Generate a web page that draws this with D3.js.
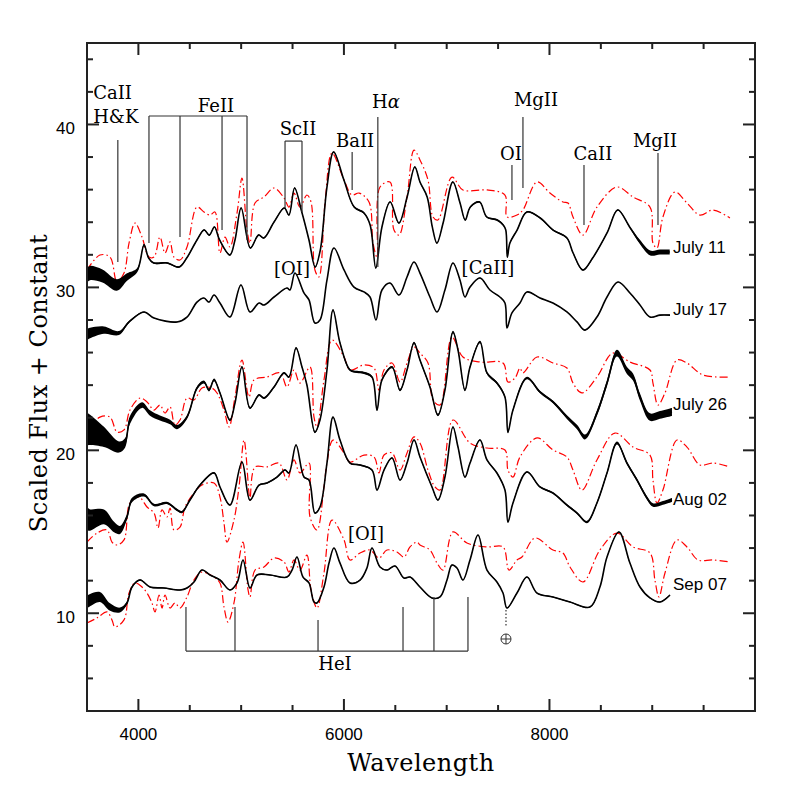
<!DOCTYPE html>
<html>
<head>
<meta charset="utf-8">
<script src="https://cdn.jsdelivr.net/npm/d3@7"></script>
<style>
  html, body { margin: 0; padding: 0; background: #fff; }
  .tick-label { font-family: "Liberation Sans", Arial, sans-serif; font-size: 17px; fill: #000; }
  .date-label { font-family: "Liberation Sans", Arial, sans-serif; font-size: 17px; fill: #000; }
  .id-label { font-family: "DejaVu Serif", serif; font-size: 18px; fill: #000; }
  .axis-title { font-family: "DejaVu Serif", serif; font-size: 24px; fill: #000; letter-spacing: 0.5px; }
</style>
</head>
<body>
<div id="chart"></div>
<script>
// Spectra: [wavelength (A), scaled flux + constant]
const july11 = [[3500,30.76],[3530,30.88],[3650,30.7],[3790,30.15],[3890,30.64],[3990,31.07],[4055,32.60],[4100,31.80],[4150,31.50],[4280,31.50],[4395,31.25],[4470,31.80],[4570,32.91],[4640,33.52],[4690,33.21],[4740,33.71],[4790,32.91],[4890,31.99],[4940,32.91],[5000,34.87],[5090,32.42],[5170,33.21],[5220,33.03],[5320,34.01],[5420,34.87],[5465,34.44],[5520,36.10],[5590,34.63],[5660,32.91],[5720,31.25],[5770,32.29],[5835,36.16],[5900,38.31],[6000,36.59],[6100,34.93],[6195,34.57],[6255,33.83],[6310,31.19],[6370,33.71],[6450,35.24],[6535,33.95],[6615,35.55],[6690,37.39],[6740,36.47],[6810,35.55],[6860,33.71],[6905,32.72],[6965,33.95],[7060,36.47],[7130,35.18],[7180,34.14],[7230,34.93],[7320,35.24],[7390,34.32],[7490,34.14],[7550,33.83],[7575,33.52],[7590,31.86],[7615,32.72],[7685,33.52],[7780,34.63],[7910,34.26],[8035,33.52],[8170,33.03],[8230,32.11],[8325,31.07],[8420,31.80],[8560,33.34],[8665,34.75],[8780,33.71],[8880,32.79],[8980,32.11],[9075,32.17],[9170,32.17]];
const july11Model = [[3500,31.07],[3626,31.99],[3724,31.86],[3792,30.33],[3860,30.88],[3909,32.72],[3967,33.95],[4035,33.09],[4103,31.86],[4152,31.86],[4210,33.09],[4259,32.11],[4308,32.79],[4346,31.86],[4405,31.68],[4473,32.48],[4570,34.93],[4638,34.63],[4697,34.44],[4745,34.63],[4794,32.11],[4843,33.09],[4891,32.48],[4960,34.57],[5008,36.71],[5057,33.52],[5086,32.72],[5135,35.18],[5222,35.55],[5320,36.10],[5417,35.49],[5465,34.93],[5514,35.79],[5572,34.93],[5640,35.67],[5680,35.24],[5718,31.07],[5757,30.64],[5816,35.18],[5884,38.25],[6001,36.59],[6078,35.67],[6147,35.79],[6244,35.24],[6283,32.72],[6322,31.86],[6351,36.16],[6448,36.47],[6487,33.52],[6536,33.21],[6614,35.55],[6682,38.43],[6740,37.82],[6818,36.59],[6867,34.32],[6915,34.14],[7051,36.77],[7158,35.98],[7392,35.98],[7567,35.67],[7587,34.32],[7684,34.44],[7742,34.75],[7879,36.47],[8005,35.79],[8131,35.24],[8180,35.18],[8229,34.32],[8326,33.21],[8462,34.93],[8657,36.16],[8813,35.55],[8978,34.93],[9007,32.72],[9046,32.42],[9104,34.32],[9221,35.85],[9338,35.18],[9464,34.44],[9591,34.75],[9756,34.26]];
const july17 = [[3500,27.1],[3530,27.20],[3665,27.38],[3811,27.20],[3909,27.88],[4055,28.49],[4152,28.12],[4376,27.88],[4473,28.18],[4570,29.10],[4638,29.35],[4687,29.10],[4736,29.53],[4794,29.04],[4891,28.18],[4998,30.15],[5086,28.49],[5174,29.04],[5222,28.92],[5320,29.41],[5446,29.96],[5475,29.84],[5524,30.88],[5611,29.66],[5660,29.23],[5718,27.81],[5767,28.00],[5835,30.45],[5903,32.42],[6001,31.07],[6098,30.02],[6195,29.72],[6254,29.41],[6312,28.00],[6370,29.84],[6448,30.27],[6536,29.53],[6614,30.64],[6682,31.56],[6740,30.88],[6837,29.41],[6906,28.49],[6983,29.84],[7061,31.50],[7129,30.46],[7178,29.41],[7227,30.02],[7324,30.58],[7421,29.84],[7518,29.41],[7567,29.04],[7587,27.51],[7635,28.43],[7713,29.04],[7781,29.72],[7908,29.35],[8034,29.04],[8170,28.49],[8268,27.88],[8346,27.38],[8462,28.18],[8560,29.41],[8667,30.33],[8783,29.66],[8881,28.92],[8978,28.18],[9075,28.30],[9173,28.30]];
const july26 = [[3500,21.3],[3530,21.25],[3665,20.82],[3811,20.20],[3870,20.45],[3918,21.86],[4035,22.78],[4113,22.29],[4210,21.98],[4308,21.74],[4376,21.43],[4473,22.04],[4570,23.82],[4638,24.19],[4687,23.70],[4736,24.32],[4794,23.52],[4891,21.86],[4940,22.90],[5008,25.11],[5086,22.60],[5174,23.39],[5222,23.21],[5320,23.89],[5417,24.75],[5465,24.50],[5534,26.28],[5592,25.11],[5640,24.01],[5718,21.12],[5767,21.86],[5835,24.93],[5894,28.61],[5962,26.59],[6059,24.93],[6127,24.81],[6195,24.75],[6273,24.50],[6322,22.47],[6370,24.32],[6468,25.11],[6546,23.70],[6614,24.93],[6682,26.59],[6740,25.54],[6837,23.89],[6915,22.17],[6983,23.70],[7061,27.26],[7110,26.16],[7178,23.70],[7227,25.11],[7324,26.65],[7392,24.75],[7489,24.13],[7567,23.27],[7596,21.12],[7645,22.47],[7781,24.44],[7908,23.58],[8034,22.97],[8170,22.04],[8268,21.43],[8346,20.82],[8462,22.29],[8560,24.13],[8657,25.97],[8754,24.9],[8813,24.5],[8881,23.27],[8978,22.04],[9075,22.17],[9192,22.35]];
const july26Model = [[3500,21.25],[3626,22.04],[3724,22.04],[3792,21.12],[3860,21.25],[3918,22.47],[4016,23.21],[4084,22.97],[4152,22.47],[4210,22.78],[4259,22.29],[4308,22.66],[4356,21.55],[4405,21.86],[4473,23.21],[4541,23.09],[4619,23.82],[4716,23.82],[4765,23.52],[4833,22.47],[4882,21.43],[4940,23.27],[5008,25.54],[5076,23.27],[5125,24.32],[5251,24.50],[5378,24.75],[5446,23.89],[5514,24.93],[5572,24.13],[5670,25.11],[5709,22.04],[5738,21.43],[5806,24.32],[5884,26.77],[6001,25.73],[6059,24.93],[6195,25.24],[6293,25.05],[6341,23.70],[6390,24.93],[6468,25.36],[6546,24.19],[6614,25.36],[6682,26.34],[6740,25.97],[6818,25.36],[6867,23.09],[6935,22.78],[7051,26.95],[7158,25.73],[7324,25.42],[7548,25.36],[7596,24.19],[7665,24.44],[7713,25.05],[7742,24.75],[7879,25.73],[8034,25.36],[8170,25.05],[8229,24.13],[8316,23.52],[8462,24.50],[8618,25.97],[8783,25.42],[8978,24.93],[9007,24.13],[9056,22.78],[9124,23.52],[9241,25.54],[9338,25.36],[9494,24.62],[9756,24.50]];
const aug02 = [[3500,15.8],[3530,15.72],[3665,15.91],[3763,15.29],[3821,15.11],[3889,15.91],[3938,16.95],[4055,17.26],[4152,16.64],[4278,16.77],[4376,16.34],[4424,16.21],[4502,16.95],[4600,17.87],[4736,18.61],[4794,17.75],[4891,16.64],[5008,19.28],[5086,16.95],[5174,17.87],[5251,17.99],[5349,18.36],[5427,18.79],[5465,18.61],[5534,20.33],[5611,18.36],[5660,18.18],[5718,16.15],[5767,16.52],[5835,19.22],[5894,22.04],[5962,20.63],[6059,19.22],[6157,19.10],[6273,18.79],[6322,17.56],[6390,18.79],[6468,19.53],[6546,18.18],[6614,19.22],[6682,20.63],[6740,19.59],[6857,17.75],[6915,16.95],[6983,18.36],[7061,21.43],[7110,20.20],[7178,18.36],[7227,19.22],[7324,20.63],[7392,19.41],[7489,18.61],[7567,17.56],[7596,15.60],[7645,16.77],[7781,18.67],[7908,17.75],[8034,17.38],[8170,16.64],[8268,16.15],[8365,15.60],[8462,16.77],[8560,18.61],[8657,20.45],[8754,19.22],[8851,18.18],[8949,17.07],[9007,16.64],[9104,16.77],[9192,16.95]];
const aug02Model = [[3500,14.37],[3597,14.92],[3695,15.11],[3743,14.37],[3792,14.19],[3860,14.50],[3918,16.77],[4006,17.13],[4084,16.52],[4152,16.15],[4191,15.23],[4230,16.34],[4278,15.91],[4308,16.46],[4346,15.11],[4405,15.29],[4454,16.52],[4541,17.38],[4619,17.87],[4736,17.99],[4794,17.13],[4833,15.54],[4862,14.37],[4930,15.72],[4979,17.75],[5028,20.63],[5076,17.38],[5086,16.95],[5135,18.98],[5251,18.98],[5368,19.22],[5446,18.18],[5514,19.41],[5572,18.61],[5660,19.22],[5670,15.91],[5738,15.11],[5806,17.75],[5835,19.22],[5894,20.63],[6001,19.84],[6059,19.28],[6195,19.71],[6293,19.59],[6341,18.61],[6390,19.71],[6468,19.84],[6546,18.79],[6614,19.84],[6682,20.82],[6740,20.45],[6818,18.79],[6886,17.75],[6935,17.56],[7061,21.86],[7227,20.45],[7392,20.14],[7567,20.02],[7596,18.79],[7645,18.36],[7713,19.59],[7879,20.76],[8034,20.02],[8170,19.59],[8229,18.79],[8316,17.56],[8462,19.41],[8637,21.06],[8813,20.20],[8978,19.71],[9007,18.18],[9046,16.77],[9104,17.56],[9241,20.63],[9338,20.20],[9464,19.10],[9591,19.22],[9756,18.98]];
const sep07 = [[3500,10.7],[3530,10.81],[3626,11.00],[3724,10.38],[3821,10.20],[3889,10.63],[3938,11.61],[4016,12.04],[4113,11.61],[4249,11.55],[4405,11.43],[4473,11.55],[4541,11.92],[4619,12.65],[4697,12.35],[4794,12.04],[4891,11.43],[4960,11.86],[5018,13.27],[5086,11.55],[5154,12.35],[5280,12.35],[5446,12.22],[5495,12.65],[5543,13.45],[5602,12.22],[5660,11.86],[5709,10.69],[5738,10.63],[5806,11.61],[5855,13.08],[5903,14.00],[5962,13.08],[6059,11.86],[6157,12.04],[6224,12.78],[6273,14.00],[6351,12.84],[6419,12.65],[6497,12.90],[6584,12.16],[6643,12.22],[6740,11.61],[6857,10.94],[6935,11.00],[7003,12.04],[7051,12.96],[7100,12.78],[7158,12.04],[7227,13.27],[7305,14.80],[7392,12.65],[7489,11.92],[7548,11.24],[7587,10.32],[7684,11.24],[7781,12.22],[7879,11.24],[8034,11.00],[8200,10.69],[8394,10.38],[8491,11.61],[8560,13.45],[8676,14.99],[8783,13.08],[8881,11.61],[8978,10.94],[9075,10.69],[9173,11.12]];
const sep07Model = [[3500,9.40],[3597,9.71],[3695,10.08],[3743,9.59],[3772,9.16],[3860,9.59],[3909,11.24],[3967,11.86],[4035,11.61],[4084,11.24],[4132,10.63],[4162,10.08],[4201,11.12],[4230,10.32],[4259,11.12],[4308,10.32],[4356,10.63],[4405,10.32],[4473,11.00],[4541,12.04],[4619,12.53],[4736,12.22],[4794,11.86],[4833,10.38],[4872,9.46],[4930,10.63],[4979,13.27],[5018,14.37],[5067,11.43],[5086,11.00],[5135,12.65],[5222,12.84],[5320,13.39],[5417,13.15],[5465,12.53],[5514,13.27],[5572,12.65],[5640,13.57],[5680,11.43],[5738,10.32],[5806,12.47],[5884,15.72],[6001,14.50],[6059,13.27],[6157,13.70],[6254,13.88],[6341,13.39],[6419,13.88],[6516,13.76],[6584,13.45],[6643,14.07],[6711,14.37],[6740,14.19],[6837,13.88],[6906,13.08],[6964,12.65],[7061,14.99],[7197,14.31],[7392,14.07],[7548,14.07],[7606,12.65],[7684,13.27],[7732,13.45],[7859,14.62],[8034,13.88],[8131,13.70],[8200,12.84],[8326,11.92],[8491,13.88],[8657,14.92],[8813,14.07],[8978,13.70],[9026,12.04],[9065,11.00],[9124,12.47],[9241,14.50],[9338,14.07],[9445,13.27],[9591,13.27],[9756,13.15]];

const july11Noise = [[3500,0.45],[3800,0.35],[3950,0.15],[4100,0.05],[8800,0.05],[8900,0.15],[9200,0.15]];
const july17Noise = [[3500,0.35],[3700,0.2],[3900,0.06],[4100,0.02],[9200,0.02]];
const july26Noise = [[3500,1.0],[3650,0.65],[3800,0.35],[4000,0.18],[4600,0.1],[5000,0.06],[8000,0.08],[8600,0.2],[9200,0.25]];
const aug02Noise = [[3500,0.7],[3700,0.4],[3900,0.15],[4100,0.08],[5000,0.04],[8000,0.05],[9200,0.12]];
const sep07Noise = [[3500,0.4],[3700,0.25],[3900,0.08],[4100,0.03],[9200,0.03]];

const dates = ["July 11", "July 17", "July 26", "Aug 02", "Sep 07"];
const dateFlux = [32.11, 28.30, 22.47, 16.64, 11.43];

// Axis ticks
const xMajor = [4000, 6000, 8000];
const xMinor = d3.range(3500, 10001, 500);
const yMajor = [10, 20, 30, 40];
const yMinor = d3.range(4, 45.1, 2);

// Line identifications: [wavelength, bottom flux, top flux]
const singleIds = [[3800,31.56,39.05],[6080,35.98,38.31],[6330,31.25,40.46],[7635,35.36,37.51],[7742,36.10,40.46],[8336,33.83,37.51],[9056,33.83,38.25]];
const feWaves = [4103, 4405, 4814, 5057], feEnds = [32.72, 33.09, 33.52, 32.91], feBar = 40.52;
const scWaves = [5427, 5592], scEnds = [34.87, 34.63], scBar = 38.98;
const heWaves = [4463, 4940, 5748, 6575, 6876, 7207], heEnds = [10.38, 10.38, 9.59, 10.38, 11.00, 11.00], heBar = 7.68;
const telluric = [7577, 10.20, 9.16, 8.42];

const idLabels = [
  ["CaII", 3560, 41.56, "start"], ["H&K", 3560, 40.09, "start"],
  ["FeII", 4755, 40.76, "middle"], ["ScII", 5553, 39.35, "middle"],
  ["BaII", 6108, 38.62, "middle"], ["OI", 7626, 37.82, "middle"],
  ["MgII", 7869, 41.15, "middle"], ["CaII", 8423, 37.82, "middle"],
  ["MgII", 9027, 38.62, "middle"], ["[OI]", 5495, 30.76, "middle"],
  ["[CaII]", 7402, 30.82, "middle"], ["[OI]", 6215, 14.50, "middle"],
  ["HeI", 5913, 6.52, "middle"]
];

const svgWidth = 797, svgHeight = 797;
const svg = d3.select("#chart").append("svg")
  .attr("width", svgWidth)
  .attr("height", svgHeight);

const x = d3.scaleLinear().domain([3500, 10000]).range([87, 755]);
const y = d3.scaleLinear().domain([4, 45]).range([711, 43]);

const line = d3.line()
  .x(d => x(d[0]))
  .y(d => y(d[1]))
  .curve(d3.curveCatmullRom.alpha(0.5));

function noiseAt(noise, w) {
  for (let i = 1; i < noise.length; i++) {
    if (w <= noise[i][0]) {
      const t = (w - noise[i - 1][0]) / (noise[i][0] - noise[i - 1][0]);
      return noise[i - 1][1] + t * (noise[i][1] - noise[i - 1][1]);
    }
  }
  return noise[noise.length - 1][1];
}

const band = d3.area()
  .x(d => x(d[0]))
  .y0(d => y(d[1] - d[2]))
  .y1(d => y(d[1] + d[2]))
  .curve(d3.curveCatmullRom.alpha(0.5));

// Models (red dash-dot)
const models = [july11Model, july26Model, aug02Model, sep07Model];
svg.append("g").selectAll("path")
  .data(models)
  .enter().append("path")
  .attr("d", line)
  .attr("fill", "none")
  .attr("stroke", "#ff0000")
  .attr("stroke-width", 1.2)
  .attr("stroke-dasharray", "8,3,1.5,3");

// Observed spectra
const spectra = [[july11, july11Noise], [july17, july17Noise], [july26, july26Noise], [aug02, aug02Noise], [sep07, sep07Noise]];
const specGroup = svg.append("g");
spectra.forEach(([s, n]) => {
  specGroup.append("path")
    .attr("d", band(s.map(d => [d[0], d[1], noiseAt(n, d[0])])))
    .attr("fill", "#000")
    .attr("stroke", "none");
  specGroup.append("path")
    .attr("d", line(s))
    .attr("fill", "none")
    .attr("stroke", "#000")
    .attr("stroke-width", 1.6);
});

// Date labels
svg.append("g").selectAll("text")
  .data(dates)
  .enter().append("text")
  .attr("class", "date-label")
  .attr("x", x(9202))
  .attr("y", (d, i) => y(dateFlux[i]))
  .text(d => d);

// Line identifications
const idGroup = svg.append("g")
  .attr("stroke", "#333")
  .attr("stroke-width", 1.2)
  .attr("fill", "none");

singleIds.forEach(d => {
  idGroup.append("line")
    .attr("x1", x(d[0])).attr("x2", x(d[0]))
    .attr("y1", y(d[1])).attr("y2", y(d[2]));
});

function bracket(waves, ends, bar) {
  idGroup.append("line")
    .attr("x1", x(waves[0])).attr("x2", x(waves[waves.length - 1]))
    .attr("y1", y(bar)).attr("y2", y(bar));
  waves.forEach((w, i) => {
    idGroup.append("line")
      .attr("x1", x(w)).attr("x2", x(w))
      .attr("y1", y(bar)).attr("y2", y(ends[i]));
  });
}
bracket(feWaves, feEnds, feBar);
bracket(scWaves, scEnds, scBar);
bracket(heWaves, heEnds, heBar);

// Telluric marker
idGroup.append("line")
  .attr("x1", x(telluric[0])).attr("x2", x(telluric[0]))
  .attr("y1", y(telluric[1])).attr("y2", y(telluric[2]))
  .attr("stroke-dasharray", "1.5,2");
const tx = x(telluric[0]), ty = y(telluric[3]);
idGroup.append("circle").attr("cx", tx).attr("cy", ty).attr("r", 5).attr("stroke-width", 1);
idGroup.append("line").attr("x1", tx - 5).attr("x2", tx + 5).attr("y1", ty).attr("y2", ty).attr("stroke-width", 1);
idGroup.append("line").attr("x1", tx).attr("x2", tx).attr("y1", ty - 5).attr("y2", ty + 5).attr("stroke-width", 1);

svg.append("g").selectAll("text")
  .data(idLabels)
  .enter().append("text")
  .attr("class", "id-label")
  .attr("x", d => x(d[1]))
  .attr("y", d => y(d[2]))
  .attr("text-anchor", d => d[3])
  .text(d => d[0]);

const ha = svg.append("text")
  .attr("class", "id-label")
  .attr("x", x(6409))
  .attr("y", y(41.02))
  .attr("text-anchor", "middle");
ha.append("tspan").text("H");
ha.append("tspan").attr("font-style", "italic").text("\u03b1");

// Frame and ticks
const [x0, x1] = x.range(), [y0, y1] = y.range();
const axisGroup = svg.append("g").attr("stroke", "#222").attr("stroke-width", 2);
axisGroup.append("rect")
  .attr("x", x0).attr("y", y1)
  .attr("width", x1 - x0).attr("height", y0 - y1)
  .attr("fill", "none");

xMinor.forEach(v => {
  const len = xMajor.includes(v) ? 12 : 6;
  axisGroup.append("line").attr("x1", x(v)).attr("x2", x(v)).attr("y1", y0).attr("y2", y0 - len);
  axisGroup.append("line").attr("x1", x(v)).attr("x2", x(v)).attr("y1", y1).attr("y2", y1 + len);
});
yMinor.forEach(v => {
  const len = yMajor.includes(v) ? 12 : 6;
  axisGroup.append("line").attr("x1", x0).attr("x2", x0 + len).attr("y1", y(v)).attr("y2", y(v));
  axisGroup.append("line").attr("x1", x1).attr("x2", x1 - len).attr("y1", y(v)).attr("y2", y(v));
});

svg.append("g").selectAll("text")
  .data(xMajor)
  .enter().append("text")
  .attr("class", "tick-label")
  .attr("x", d => x(d))
  .attr("y", y0 + 29)
  .attr("text-anchor", "middle")
  .text(d => d);

svg.append("g").selectAll("text")
  .data(yMajor)
  .enter().append("text")
  .attr("class", "tick-label")
  .attr("x", x0 - 12)
  .attr("y", d => y(d) + 10)
  .attr("text-anchor", "end")
  .text(d => d);

// Axis titles
svg.append("text")
  .attr("class", "axis-title")
  .attr("x", (x0 + x1) / 2)
  .attr("y", 771)
  .attr("text-anchor", "middle")
  .text("Wavelength");

svg.append("text")
  .attr("class", "axis-title")
  .attr("transform", `translate(47, ${(y0 + y1) / 2 + 6}) rotate(-90)`)
  .attr("text-anchor", "middle")
  .text("Scaled Flux + Constant");
</script>
</body>
</html>
